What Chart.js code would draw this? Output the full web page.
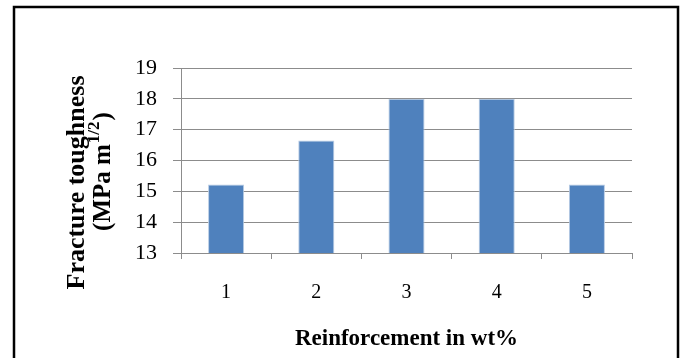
<!DOCTYPE html>
<html>
<head>
<meta charset="utf-8">
<script src="https://cdn.jsdelivr.net/npm/chart.js@4/dist/chart.umd.min.js"></script>
<style>
  html, body { margin: 0; padding: 0; background: #ffffff; }
  #wrap { width: 682px; height: 358px; position: relative; }
</style>
</head>
<body>
<div id="wrap"><canvas id="c" width="682" height="358"></canvas></div>
<script>
// Reinforcement content (wt%) and measured fracture toughness
const categories = ['1', '2', '3', '4', '5'];
const toughness = [15.22, 16.65, 18, 18, 15.22];
const yTickValues = [13, 14, 15, 16, 17, 18, 19];

const SERIF = '"Liberation Serif", "Times New Roman", serif';

// Frame around the figure and the two-line rotated y title with superscript
const decorations = {
  id: 'decorations',
  beforeDraw(chart) {
    const ctx = chart.ctx;
    ctx.save();
    ctx.fillStyle = '#ffffff';
    ctx.fillRect(0, 0, chart.width, chart.height);
    ctx.restore();
  },
  afterDraw(chart) {
    const ctx = chart.ctx;
    const area = chart.chartArea;
    ctx.save();
    ctx.strokeStyle = '#000000';
    ctx.lineWidth = 2.5;
    ctx.beginPath();
    ctx.moveTo(14, chart.height + 5);
    ctx.lineTo(14, 7);
    ctx.lineTo(678, 7);
    ctx.lineTo(678, chart.height + 5);
    ctx.stroke();
    ctx.restore();

    const cy = (area.top + area.bottom) / 2 + 22;
    ctx.save();
    ctx.translate(area.left - 104, cy);
    ctx.rotate(-Math.PI / 2);
    ctx.fillStyle = '#000000';
    ctx.textBaseline = 'middle';
    ctx.textAlign = 'center';
    ctx.font = 'bold 26px ' + SERIF;
    ctx.fillText('Fracture toughness', 0, 0);

    // second line: (MPa m^1/2)
    const big = 'bold 25px ' + SERIF;
    const small = 'bold 17px ' + SERIF;
    ctx.textAlign = 'left';
    ctx.font = big;
    const w1 = ctx.measureText('(MPa m').width;
    const w3 = ctx.measureText(')').width;
    ctx.font = small;
    const w2 = ctx.measureText('1/2').width;
    const total = w1 + w2 + w3;
    let x = 10 - total / 2;
    const y = 27;
    ctx.font = big;
    ctx.fillText('(MPa m', x, y);
    x += w1 + 1;
    ctx.font = small;
    ctx.fillText('1/2', x, y - 9);
    x += w2 + 1;
    ctx.font = big;
    ctx.fillText(')', x, y);
    ctx.restore();
  }
};

new Chart(document.getElementById('c'), {
  type: 'bar',
  data: {
    labels: categories,
    datasets: [{
      data: toughness,
      backgroundColor: '#4F81BD',
      borderColor: '#B7CBE4',
      borderWidth: 1,
      barPercentage: 0.4,
      categoryPercentage: 1.0
    }]
  },
  plugins: [decorations],
  options: {
    responsive: false,
    animation: false,
    layout: { padding: { left: 0, right: 50, top: 68, bottom: 0 } },
    plugins: { legend: { display: false }, tooltip: { enabled: false } },
    scales: {
      x: {
        offset: true,
        grid: {
          offset: true,
          drawOnChartArea: false,
          drawTicks: true,
          tickLength: 6,
          color: '#8c8c8c'
        },
        border: { color: '#8c8c8c' },
        ticks: {
          color: '#000000',
          padding: 22,
          font: { family: SERIF, size: 20 }
        },
        title: {
          display: true,
          text: 'Reinforcement in wt%',
          color: '#000000',
          font: { family: SERIF, size: 23, weight: 'bold' },
          padding: { top: 0, bottom: 5 }
        },
        afterFit(scale) { scale.height = 105; }
      },
      y: {
        min: 13,
        max: 19,
        afterBuildTicks(scale) {
          scale.ticks = yTickValues.map(v => ({ value: v }));
        },
        grid: {
          color: '#8c8c8c',
          tickLength: 8
        },
        border: { color: '#8c8c8c' },
        ticks: {
          color: '#000000',
          padding: 16,
          font: { family: SERIF, size: 22 }
        },
        afterFit(scale) { scale.width = 181; }
      }
    }
  }
});
</script>
</body>
</html>
